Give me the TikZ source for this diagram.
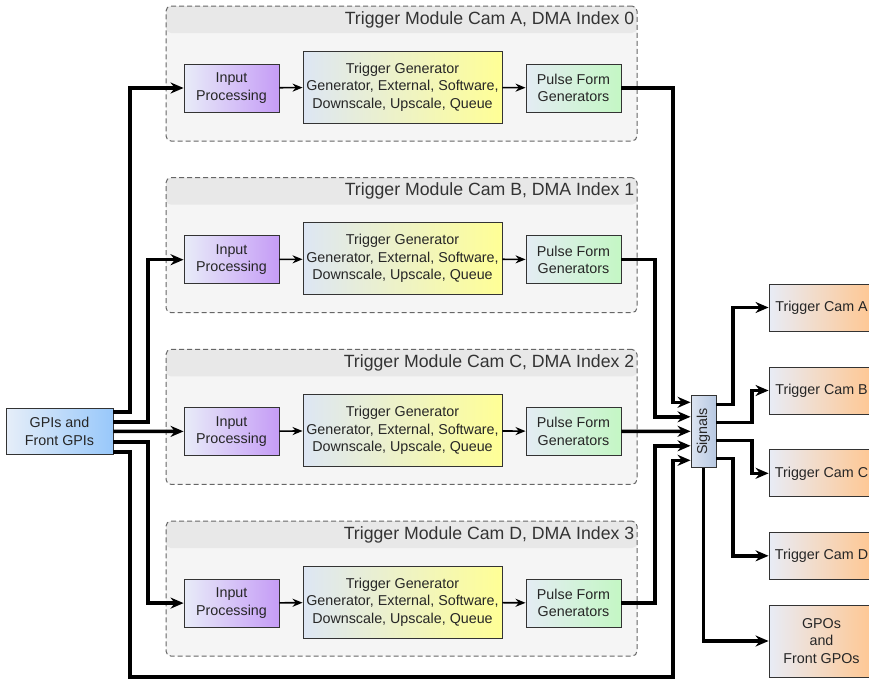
\documentclass[tikz,border=0pt]{standalone}
\usepackage{fontspec}
\setmainfont{Liberation Sans}
\usetikzlibrary{arrows.meta,positioning,calc}

\definecolor{inL}{HTML}{E8ECF8}
\definecolor{inR}{HTML}{C59CF6}
\definecolor{tgL}{HTML}{DDE6F4}
\definecolor{tgR}{HTML}{FFFF96}
\definecolor{pfL}{HTML}{E4ECF4}
\definecolor{pfR}{HTML}{C4F7C4}
\definecolor{gpL}{HTML}{E6EEF9}
\definecolor{gpR}{HTML}{98C8FA}
\definecolor{ouL}{HTML}{E8ECF6}
\definecolor{ouR}{HTML}{FFC690}
\definecolor{sgL}{HTML}{DCE4F1}
\definecolor{sgR}{HTML}{B8C9E2}

\tikzset{
  module/.style={draw=black!60, dash pattern=on 5pt off 3pt, line width=1pt, rounded corners=5pt,
    fill=black!4, minimum width=471pt, minimum height=135pt,
    path picture={\fill[black!9] (path picture bounding box.north west)
      rectangle ([yshift=-27pt]path picture bounding box.north east);}},
  modtitle/.style={inner sep=0pt, text=black!80, font=\fontsize{17.7}{20}\selectfont},
  block/.style={draw=black!80, line width=0.9pt, align=center, inner sep=0pt,
    text=black!85, font=\fontsize{14.3}{17.5}\selectfont},
  inbox/.style={block, minimum width=95pt, minimum height=48pt, left color=inL, right color=inR},
  tgbox/.style={block, minimum width=199pt, minimum height=72pt, left color=tgL, right color=tgR},
  pfbox/.style={block, minimum width=95pt, minimum height=48pt, left color=pfL, right color=pfR},
  gpibox/.style={block, minimum width=107pt, minimum height=46pt, left color=gpL, right color=gpR},
  outbox/.style={block, minimum width=105pt, minimum height=47pt, left color=ouL, right color=ouR},
  sigbox/.style={block, minimum width=25pt, minimum height=72pt, left color=sgL, right color=sgR},
  link/.style={line width=1.6pt, -{Stealth[length=10pt,width=8pt]}},
  bus/.style={line width=3.5pt, -{Stealth[length=13pt,width=11pt]}}
}

\begin{document}
\begin{tikzpicture}[x=1pt, y=-1pt]
\useasboundingbox (0,0) rectangle (869,680);
\fill[white] (0,0) rectangle (869,680);
\clip (0,0) rectangle (869,680);

% trigger modules
\foreach \i/\cam in {0/A,1/B,2/C,3/D}{
  \pgfmathsetmacro\off{171.7*\i}
  \node[module] (mod\cam) at (401.5,{73.5+\off}) {};
  \node[modtitle, anchor=east] (title\cam) at ([xshift=-3pt,yshift=-14pt]mod\cam.north east) {Trigger Module Cam \cam, DMA Index \i};
  \node[inbox] (in\cam) at (231.5,{88+\off}) {Input\\Processing};
  \node[tgbox] (tg\cam) at (402.5,{87+\off}) {Trigger Generator\\Generator, External, Software,\\Downscale, Upscale, Queue};
  \node[pfbox] (pf\cam) at (573.5,{88+\off}) {Pulse Form\\Generators};
  \draw[link] (in\cam) -- (tg\cam);
  \draw[link] (tg\cam) -- (pf\cam);
}

% inputs, signal router, outputs
\node[gpibox] (gpi) at (59.5,431.3) {GPIs and\\Front GPIs};
\node[sigbox] (sig) at (703.5,431.3) {\rotatebox{90}{Signals}};
\node[outbox] (camA) at (821.5,307.5) {Trigger Cam A};
\node[outbox] (camB) at (821.5,390.5) {Trigger Cam B};
\node[outbox] (camC) at (821.5,473.3) {Trigger Cam C};
\node[outbox] (camD) at (821.5,555.8) {Trigger Cam D};
\node[outbox, minimum height=72pt] (gpo) at (821.5,641) {GPOs\\and\\Front GPOs};

% bend columns
\coordinate (colA) at (130,0);
\coordinate (colB) at (148,0);
\coordinate (colS1) at (673,0);
\coordinate (colS2) at (655,0);
\coordinate (colO1) at (733,0);
\coordinate (colO2) at (752,0);
\coordinate (loopY) at (0,677);

\coordinate (sinA) at ([yshift=29pt]sig.west);
\coordinate (sinB) at ([yshift=14.5pt]sig.west);
\coordinate (sinC) at (sig.west);
\coordinate (sinD) at ([yshift=-14.5pt]sig.west);
\coordinate (sinE) at ([yshift=-29pt]sig.west);
\coordinate (soutA) at ([yshift=27pt]sig.east);
\coordinate (soutB) at ([yshift=9pt]sig.east);
\coordinate (soutC) at ([yshift=-9pt]sig.east);
\coordinate (soutD) at ([yshift=-27pt]sig.east);

% GPIs to the modules
\draw[bus] ([yshift=19.5pt]gpi.east) -| (colA |- inA.west) -- (inA.west);
\draw[bus] ([yshift=9.5pt]gpi.east) -| (colB |- inB.west) -- (inB.west);
\draw[bus] (gpi.east) -- (inC.west);
\draw[bus] ([yshift=-10.5pt]gpi.east) -| (colB |- inD.west) -- (inD.west);
\draw[bus] ([yshift=-20.5pt]gpi.east) -| (colA |- loopY) -| (colS1 |- sinE) -- (sinE);

% modules to signals
\draw[bus] (pfA.east) -| (colS1 |- sinA) -- (sinA);
\draw[bus] (pfB.east) -| (colS2 |- sinB) -- (sinB);
\draw[bus] (pfC.east) -- (sinC);
\draw[bus] (pfD.east) -| (colS2 |- sinD) -- (sinD);

% signals to outputs
\draw[bus] (soutA) -| (colO1 |- camA.west) -- (camA.west);
\draw[bus] (soutB) -| (colO2 |- camB.west) -- (camB.west);
\draw[bus] (soutC) -| (colO2 |- camC.west) -- (camC.west);
\draw[bus] (soutD) -| (colO1 |- camD.west) -- (camD.west);
\draw[bus] (sig.south) |- (gpo.west);
\end{tikzpicture}
\end{document}
